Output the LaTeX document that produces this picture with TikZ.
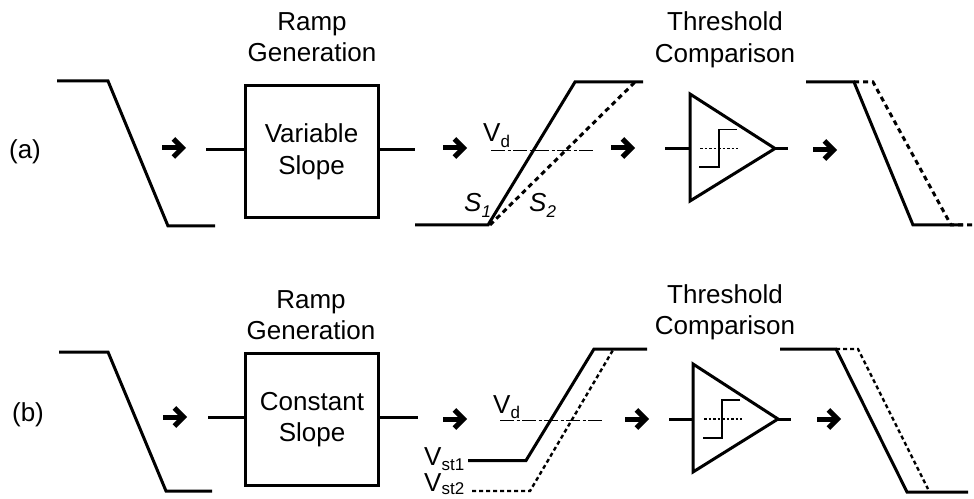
\documentclass[tikz,border=0pt]{standalone}
\usepackage{fontspec}
\setmainfont{Liberation Sans}
\usetikzlibrary{arrows.meta}
\newcommand{\subtxt}[1]{\raisebox{-0.22em}{\fontsize{17bp}{17bp}\selectfont #1}}
\newcommand{\subtxtlow}[1]{\raisebox{-0.15em}{\fontsize{17bp}{17bp}\selectfont #1}}
\tikzset{
  x=1bp,y=-1bp,
  wave/.style={line width=3bp,line join=miter,miter limit=3},
  wire/.style={line width=3bp},
  dwave/.style={line width=3bp,dash pattern=on 5bp off 4bp},
  dwavethin/.style={line width=2.4bp,dash pattern=on 4bp off 3bp},
  thinwave/.style={line width=1.8bp},
  dotline/.style={line width=1.4bp,dash pattern=on 2.5bp off 2bp},
  dashdotline/.style={line width=1.1bp,dash pattern=on 14bp off 2.5bp on 3bp off 2.5bp},
  flow/.style={line width=5bp,-{Straight Barb[length=9bp,width=18bp,line width=5bp]}},
  label/.style={inner sep=0pt,font=\fontsize{26bp}{31.5bp}\selectfont,align=center},
  sub/.style={inner sep=0pt,font=\fontsize{26bp}{31bp}\selectfont,anchor=base west},
  blockbox/.style={draw,line width=3bp,minimum width=133bp,minimum height=132bp,inner sep=0pt,
     font=\fontsize{26bp}{31.5bp}\selectfont,align=center},
}
\newcommand{\flowarrow}[3]{%
  \coordinate (#1s) at (#2,#3);
  \coordinate (#1e) at (#2+24,#3);
  \draw[flow] (#1s) -- (#1e);}
\begin{document}
\begin{tikzpicture}
\useasboundingbox (0,0) rectangle (974,499);
% ---------- row a ----------
\node[label] (tagA) at (25,152) {(a)};
\draw[wave] (57,81) -- (108,81) -- (168,226) -- (215,226);
\flowarrow{a1}{162}{148}
\node[blockbox] (boxA) at (311.5,152) {Variable\\Slope};
\node[label] (titleA) at (312,37) {Ramp\\Generation};
\coordinate (inA) at (206,150);
\coordinate (outA) at (415,150);
\draw[wire] (inA) -- (inA-|boxA.west);
\draw[wire] (outA-|boxA.east) -- (outA);
\flowarrow{a2}{443}{148}
\draw[wave] (415,225) -- (488,225) -- (575,82) -- (643,82);
\draw[dwave] (490,225) -- (635,82);
\draw[dashdotline] (491,150.5) -- (593,150.5);
\node[sub] (vdA) at (483,142) {V\subtxt{d}};
\node[sub] (s1A) at (464,212) {\textit{S}\subtxt{\textit{1}}};
\node[sub] (s2A) at (529,212) {\textit{S}\subtxt{\textit{2}}};
\flowarrow{a3}{611}{148}
\node[label] (titleCA) at (725,40) {Threshold\\Comparison};
\coordinate (triAa) at (690,94);
\coordinate (triAb) at (690,201);
\coordinate (triAc) at (775,148.5);
\draw[wave,line join=miter] (triAa) -- (triAc) -- (triAb) -- cycle;
\draw[wire] (665,148.5) -- (690,148.5);
\draw[wire] (triAc) -- (788,148.5);
\draw[thinwave] (699,167) -- (719,167) -- (719,129.5) -- (737,129.5);
\draw[dotline] (700,148.5) -- (738,148.5);
\flowarrow{a4}{813}{150}
\draw[dwave] (854,82) -- (873,82) -- (951,225) -- (974,225);
\draw[wave] (806,82) -- (854,82) -- (913,225) -- (963,225);
% ---------- row b ----------
\node[label] (tagB) at (28,415) {(b)};
\draw[wave] (59,352) -- (108,352) -- (166,491) -- (212,491);
\flowarrow{b1}{163}{417}
\node[blockbox] (boxB) at (312,419.5) {Constant\\Slope};
\node[label] (titleB) at (311,315) {Ramp\\Generation};
\coordinate (inB) at (208,417.5);
\coordinate (outB) at (418,417.5);
\draw[wire] (inB) -- (inB-|boxB.west);
\draw[wire] (outB-|boxB.east) -- (outB);
\flowarrow{b2}{443}{419}
\draw[wave] (468,460.5) -- (526,460.5) -- (594,349) -- (647,349);
\draw[dwavethin] (472,491) -- (530,491) -- (613,350);
\draw[dashdotline] (500,420.5) -- (602,420.5);
\node[sub] (vdB) at (493,413) {V\subtxt{d}};
\node[sub] (vs1) at (424,465) {V\subtxt{st1}};
\node[sub] (vs2) at (424,491) {V\subtxtlow{st2}};
\flowarrow{b3}{625}{419}
\node[label] (titleCB) at (725,312.5) {Threshold\\Comparison};
\coordinate (triBa) at (693,364);
\coordinate (triBb) at (693,472);
\coordinate (triBc) at (778,419);
\draw[wave] (triBa) -- (triBc) -- (triBb) -- cycle;
\draw[wire] (669,419) -- (693,419);
\draw[wire] (triBc) -- (791,419);
\draw[thinwave] (703,438) -- (722,438) -- (722,400) -- (740,400);
\draw[dotline] (704,419) -- (742,419);
\flowarrow{b4}{817}{419}
\draw[dwavethin] (836,349) -- (858,349) -- (928,489);
\draw[wave] (780,349) -- (836,349) -- (907,492) -- (968,492);
\end{tikzpicture}
\end{document}
